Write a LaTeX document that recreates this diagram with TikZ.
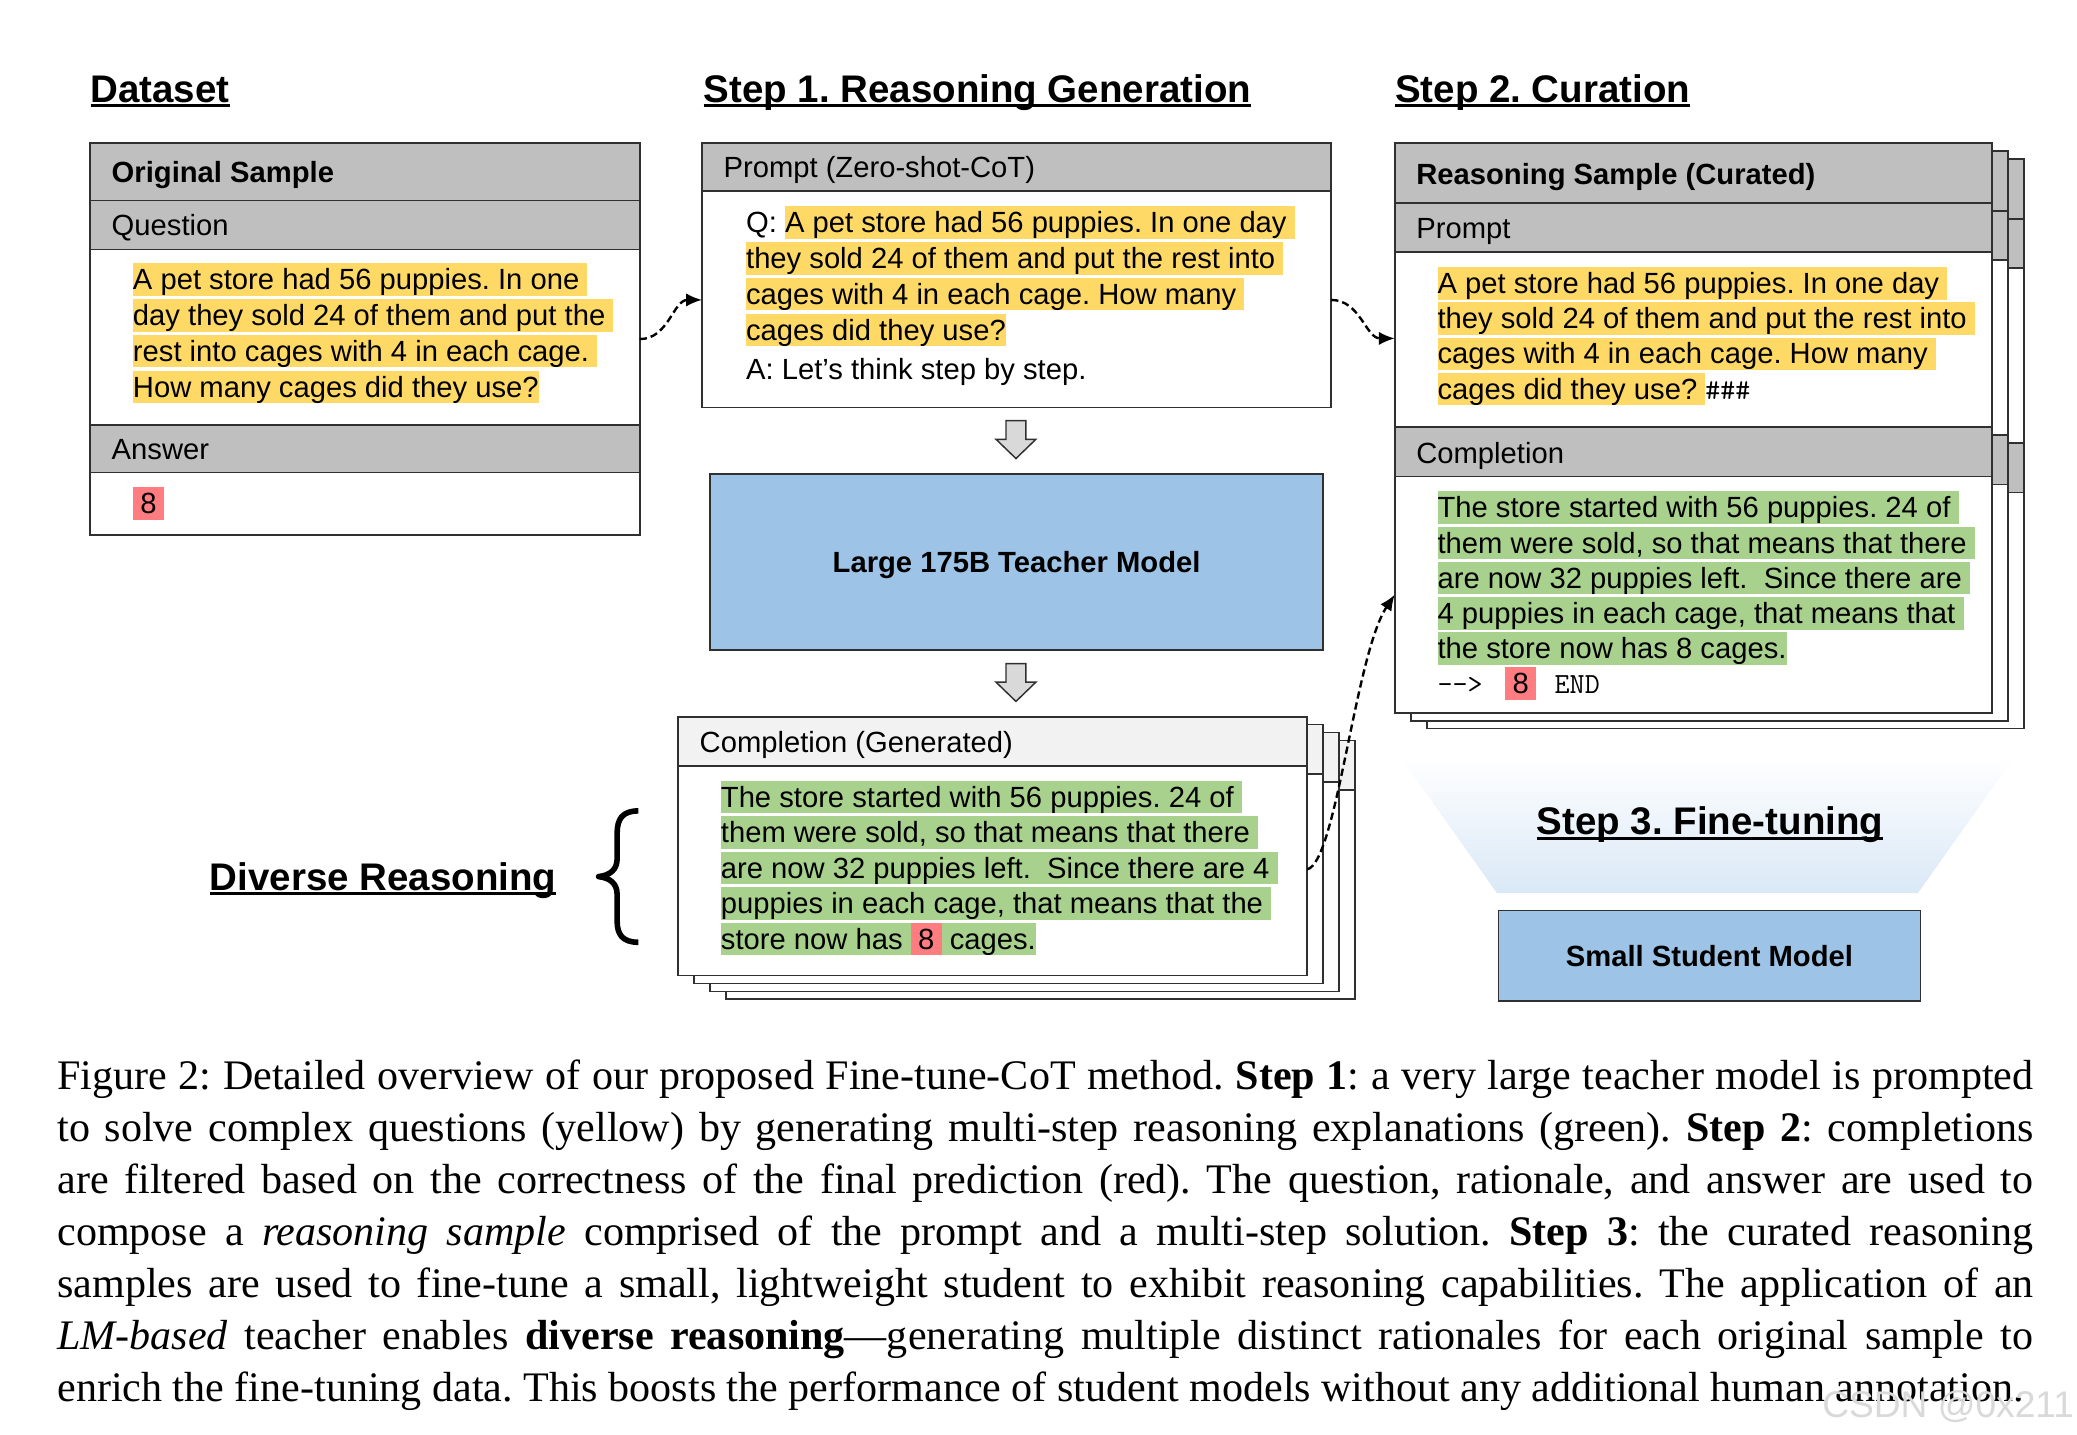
\documentclass[tikz,border=0pt]{standalone}
\usepackage{fontspec}
\setmainfont{Liberation Serif}
\newfontfamily\arial{Liberation Sans}
\usetikzlibrary{arrows.meta}
\frenchspacing
\definecolor{hlY}{HTML}{FFD966}
\definecolor{hlG}{HTML}{A9D18E}
\definecolor{hlR}{HTML}{FF7C80}
\definecolor{hdr}{HTML}{BFBFBF}
\definecolor{hdrL}{HTML}{F2F2F2}
\definecolor{mblue}{HTML}{9DC3E6}
\definecolor{lblue}{HTML}{DAE8F6}
\definecolor{edge}{HTML}{303030}
\newcommand\hlc[2]{{\setlength{\fboxsep}{0pt}\colorbox{#1}{\rule[-0.212em]{0pt}{1.117em}#2}}}
\newcommand\hlY[1]{\hlc{hlY}{#1}}
\newcommand\hlG[1]{\hlc{hlG}{#1}}
\newcommand\hlR[1]{\hlc{hlR}{\hspace{5.5pt}#1\hspace{5.5pt}}}
\newcommand\myul[1]{\setbox0\hbox{#1}\rlap{\rule[-3.6pt]{\wd0}{2.2pt}}\box0}
\newcommand\bodyf[1]{\arial\fontsize{22}{#1}\selectfont}
\newcommand\titlef{\arial\bfseries\fontsize{29}{34}\selectfont}
\newcommand\capf{\fontsize{31.7}{39.2}\selectfont\frenchspacing}
\tikzset{
  sep/.style={draw=edge, line width=1.3pt},
  boxnode/.style={draw=edge, line width=1.3pt, inner sep=0pt, outer sep=0pt, anchor=north west},
  lbl/.style={anchor=base west, inner sep=0pt, font={\bodyf{27}}},
  txt/.style={anchor=north west, inner sep=0pt, align=left},
  ttl/.style={anchor=base west, inner sep=0pt, font=\titlef},
  dasharrow/.style={dash pattern=on 5.5pt off 3pt, line width=1.8pt, -{Latex[length=12pt,width=10pt]}},
  blockarrow/.style={draw=edge, fill=gray!30, line width=1.1pt},
  capline/.style={anchor=base west, inner sep=0pt, font=\capf},
}
\begin{document}
\begin{tikzpicture}[x=1pt,y=-1pt]
\useasboundingbox (0,0) rectangle (1565,1081);
\fill[white] (0,0) rectangle (1565,1081);

% ---------- titles
\node[ttl] (tData) at (68,77) {\myul{Dataset}};
\node[ttl] (tStepA) at (530,77) {\myul{Step 1. Reasoning Generation}};
\node[ttl] (tStepB) at (1051,77) {\myul{Step 2. Curation}};

% ---------- original sample
\fill[hdr] (68,108) rectangle (482,188);
\fill[hdr] (68,320) rectangle (482,356);
\draw[sep] (68,151) -- (482,151) (68,188) -- (482,188) (68,320) -- (482,320) (68,356) -- (482,356);
\node[boxnode, minimum width=414pt, minimum height=295pt] (orig) at (68,108) {};
\node[lbl, font={\bodyf{27}\bfseries}] (origT) at (84,137.5) {Original Sample};
\node[lbl] (origQ) at (84,177.5) {Question};
\node[txt, font={\bodyf{27}}] (origQtxt) at (100,198.1) {\hlY{A pet store had 56 puppies. In one\ }\\\hlY{day they sold 24 of them and put the\ }\\\hlY{rest into cages with 4 in each cage.\ }\\\hlY{How many cages did they use?}};
\node[lbl] (origA) at (84,346) {Answer};
\node[lbl] (origAtxt) at (100,387) {\hlR{8}};

% ---------- prompt
\fill[hdr] (529,108) rectangle (1003,144);
\draw[sep] (529,144) -- (1003,144);
\node[boxnode, minimum width=474pt, minimum height=199pt] (prompt) at (529,108) {};
\node[lbl] (promptT) at (545,134) {Prompt (Zero-shot-CoT)};
\node[txt, font={\bodyf{27}}] (promptTxt) at (562,155.1) {Q:\ \hlY{A pet store had 56 puppies. In one day\ }\\\hlY{they sold 24 of them and put the rest into\ }\\\hlY{cages with 4 in each cage. How many\ }\\\hlY{cages did they use?}\\[3pt]\rule[-0.212em]{0pt}{1.117em}A: Let’s think step by step.};

% ---------- block arrows
\draw[blockarrow] (758,317) -- (773,317) -- (773,331) -- (780.5,331) -- (765.5,345.5) -- (750.5,331) -- (758,331) -- cycle;
\draw[blockarrow] (758,500) -- (773,500) -- (773,514) -- (780.5,514) -- (765.5,528.5) -- (750.5,514) -- (758,514) -- cycle;

% ---------- teacher
\node[boxnode, fill=mblue, minimum width=462pt, minimum height=133pt, text depth=0pt, font={\arial\bfseries\fontsize{22}{26}\selectfont}] (teacher) at (535,357) {Large 175B Teacher Model};

% ---------- generated completion stack
\foreach \k in {3,2,1}{
  \begin{scope}[shift={(12*\k,6*\k)}]
    \fill[white] (511,540) rectangle (985,735);
    \fill[hdrL] (511,540) rectangle (985,577);
    \draw[sep] (511,577) -- (985,577);
    \draw[sep] (511,540) rectangle (985,735);
  \end{scope}
}
\fill[white] (511,540) rectangle (985,735);
\fill[hdrL] (511,540) rectangle (985,577);
\draw[sep] (511,577) -- (985,577);
\node[boxnode, minimum width=474pt, minimum height=195pt] (gen) at (511,540) {};
\node[lbl] (genT) at (527,567) {Completion (Generated)};
\node[txt, font={\bodyf{26.75}}] (genTxt) at (543,588.1) {\hlG{The store started with 56 puppies. 24 of\ }\\\hlG{them were sold, so that means that there\ }\\\hlG{are now 32 puppies left.\ \ Since there are 4\ }\\\hlG{puppies in each cage, that means that the\ }\\\hlG{store now has\ }\hlR{8}\hlG{\ cages.}};

% ---------- brace and diverse reasoning
\draw[line width=4.2pt, line join=round] (481,611) .. controls (469,611) and (465,617) .. (465,628) -- (465,647) .. controls (465,655) and (460,659.5) .. (451,660.5) .. controls (460,661.5) and (465,666) .. (465,674) -- (465,694) .. controls (465,704) and (469,710) .. (481,710);
\node[ttl] (tDiverse) at (158,671) {\myul{Diverse Reasoning}};

% ---------- curated stack
\foreach \k in {2,1}{
  \begin{scope}[shift={(12*\k,6*\k)}]
    \fill[white] (1051,108) rectangle (1501,537);
    \fill[hdr] (1051,108) rectangle (1501,190);
    \fill[hdr] (1051,322) rectangle (1501,359);
    \draw[sep] (1051,153) -- (1501,153) (1051,190) -- (1501,190) (1051,322) -- (1501,322) (1051,359) -- (1501,359);
    \draw[sep] (1051,108) rectangle (1501,537);
  \end{scope}
}
\fill[white] (1051,108) rectangle (1501,537);
\fill[hdr] (1051,108) rectangle (1501,190);
\fill[hdr] (1051,322) rectangle (1501,359);
\draw[sep] (1051,153) -- (1501,153) (1051,190) -- (1501,190) (1051,322) -- (1501,322) (1051,359) -- (1501,359);
\node[boxnode, minimum width=450pt, minimum height=429pt] (cur) at (1051,108) {};
\node[lbl, font={\bodyf{27}\bfseries}] (curT) at (1067,139) {Reasoning Sample (Curated)};
\node[lbl] (curP) at (1067,180) {Prompt};
\node[txt, font={\bodyf{26.5}}] (curPtxt) at (1083,201.1) {\hlY{A pet store had 56 puppies. In one day\ }\\\hlY{they sold 24 of them and put the rest into\ }\\\hlY{cages with 4 in each cage. How many\ }\\\hlY{cages did they use?\ }{\ttfamily\#\#\#}};
\node[lbl] (curC) at (1067,349) {Completion};
\node[txt, font={\bodyf{26.5}}] (curCtxt) at (1083,370.1) {\hlG{The store started with 56 puppies. 24 of\ }\\\hlG{them were sold, so that means that there\ }\\\hlG{are now 32 puppies left.\ \ Since there are\ }\\\hlG{4 puppies in each cage, that means that\ }\\\hlG{the store now has 8 cages.}\\{\ttfamily-{}-{}>}\hspace{17pt}\hlR{8}\hspace{14pt}{\ttfamily END}};

% ---------- connectors
\draw[dasharrow] (orig.east) to[out=0,in=180] ([yshift=-18.5pt]prompt.west);
\draw[dasharrow] ([yshift=-18.5pt]prompt.east) to[out=0,in=180] ([yshift=67.5pt]cur.west);
\draw[dasharrow] ([yshift=-17.5pt]gen.east) .. controls +(22,-5) and +(-30,45) .. ([yshift=-125.5pt]cur.west);

% ---------- step 3
\shade[top color=white, bottom color=lblue] (1055,570) -- (1518,570) -- (1445,673) -- (1128,673) -- cycle;
\node[anchor=base, inner sep=0pt, font=\titlef] (tStepC) at (1288.5,629) {\myul{Step 3. Fine-tuning}};
\node[boxnode, fill=mblue, minimum width=318pt, minimum height=68pt, text depth=0pt, font={\arial\bfseries\fontsize{22}{26}\selectfont}] (student) at (1129,686) {Small Student Model};

% ---------- caption
\node[capline] (capA) at (43,821) {\hbox to 1489pt{Figure 2: Detailed overview of our proposed Fine-tune-CoT method. \textbf{Step 1}: a very large teacher model is prompted}};
\node[capline] (capB) at (43,860.2) {\hbox to 1489pt{to solve complex questions (yellow) by generating multi-step reasoning explanations (green). \textbf{Step 2}: completions}};
\node[capline] (capC) at (43,899.4) {\hbox to 1489pt{are filtered based on the correctness of the final prediction (red). The question, rationale, and answer are used to}};
\node[capline] (capD) at (43,938.6) {\hbox to 1489pt{compose a \textit{reasoning sample} comprised of the prompt and a multi-step solution. \textbf{Step 3}: the curated reasoning}};
\node[capline] (capE) at (43,977.8) {\hbox to 1489pt{samples are used to fine-tune a small, lightweight student to exhibit reasoning capabilities. The application of an}};
\node[capline] (capF) at (43,1017) {\hbox to 1489pt{\textit{LM-based} teacher enables \textbf{diverse reasoning}---generating multiple distinct rationales for each original sample to}};
\node[capline] (capG) at (43,1056.2) {enrich the fine-tuning data. This boosts the performance of student models without any additional human annotation.};
\node[anchor=base east, inner sep=0pt, font={\arial\fontsize{28}{30}\selectfont}, text=gray!30] (wm) at (1563,1068) {CSDN @0x211};
\end{tikzpicture}
\end{document}
